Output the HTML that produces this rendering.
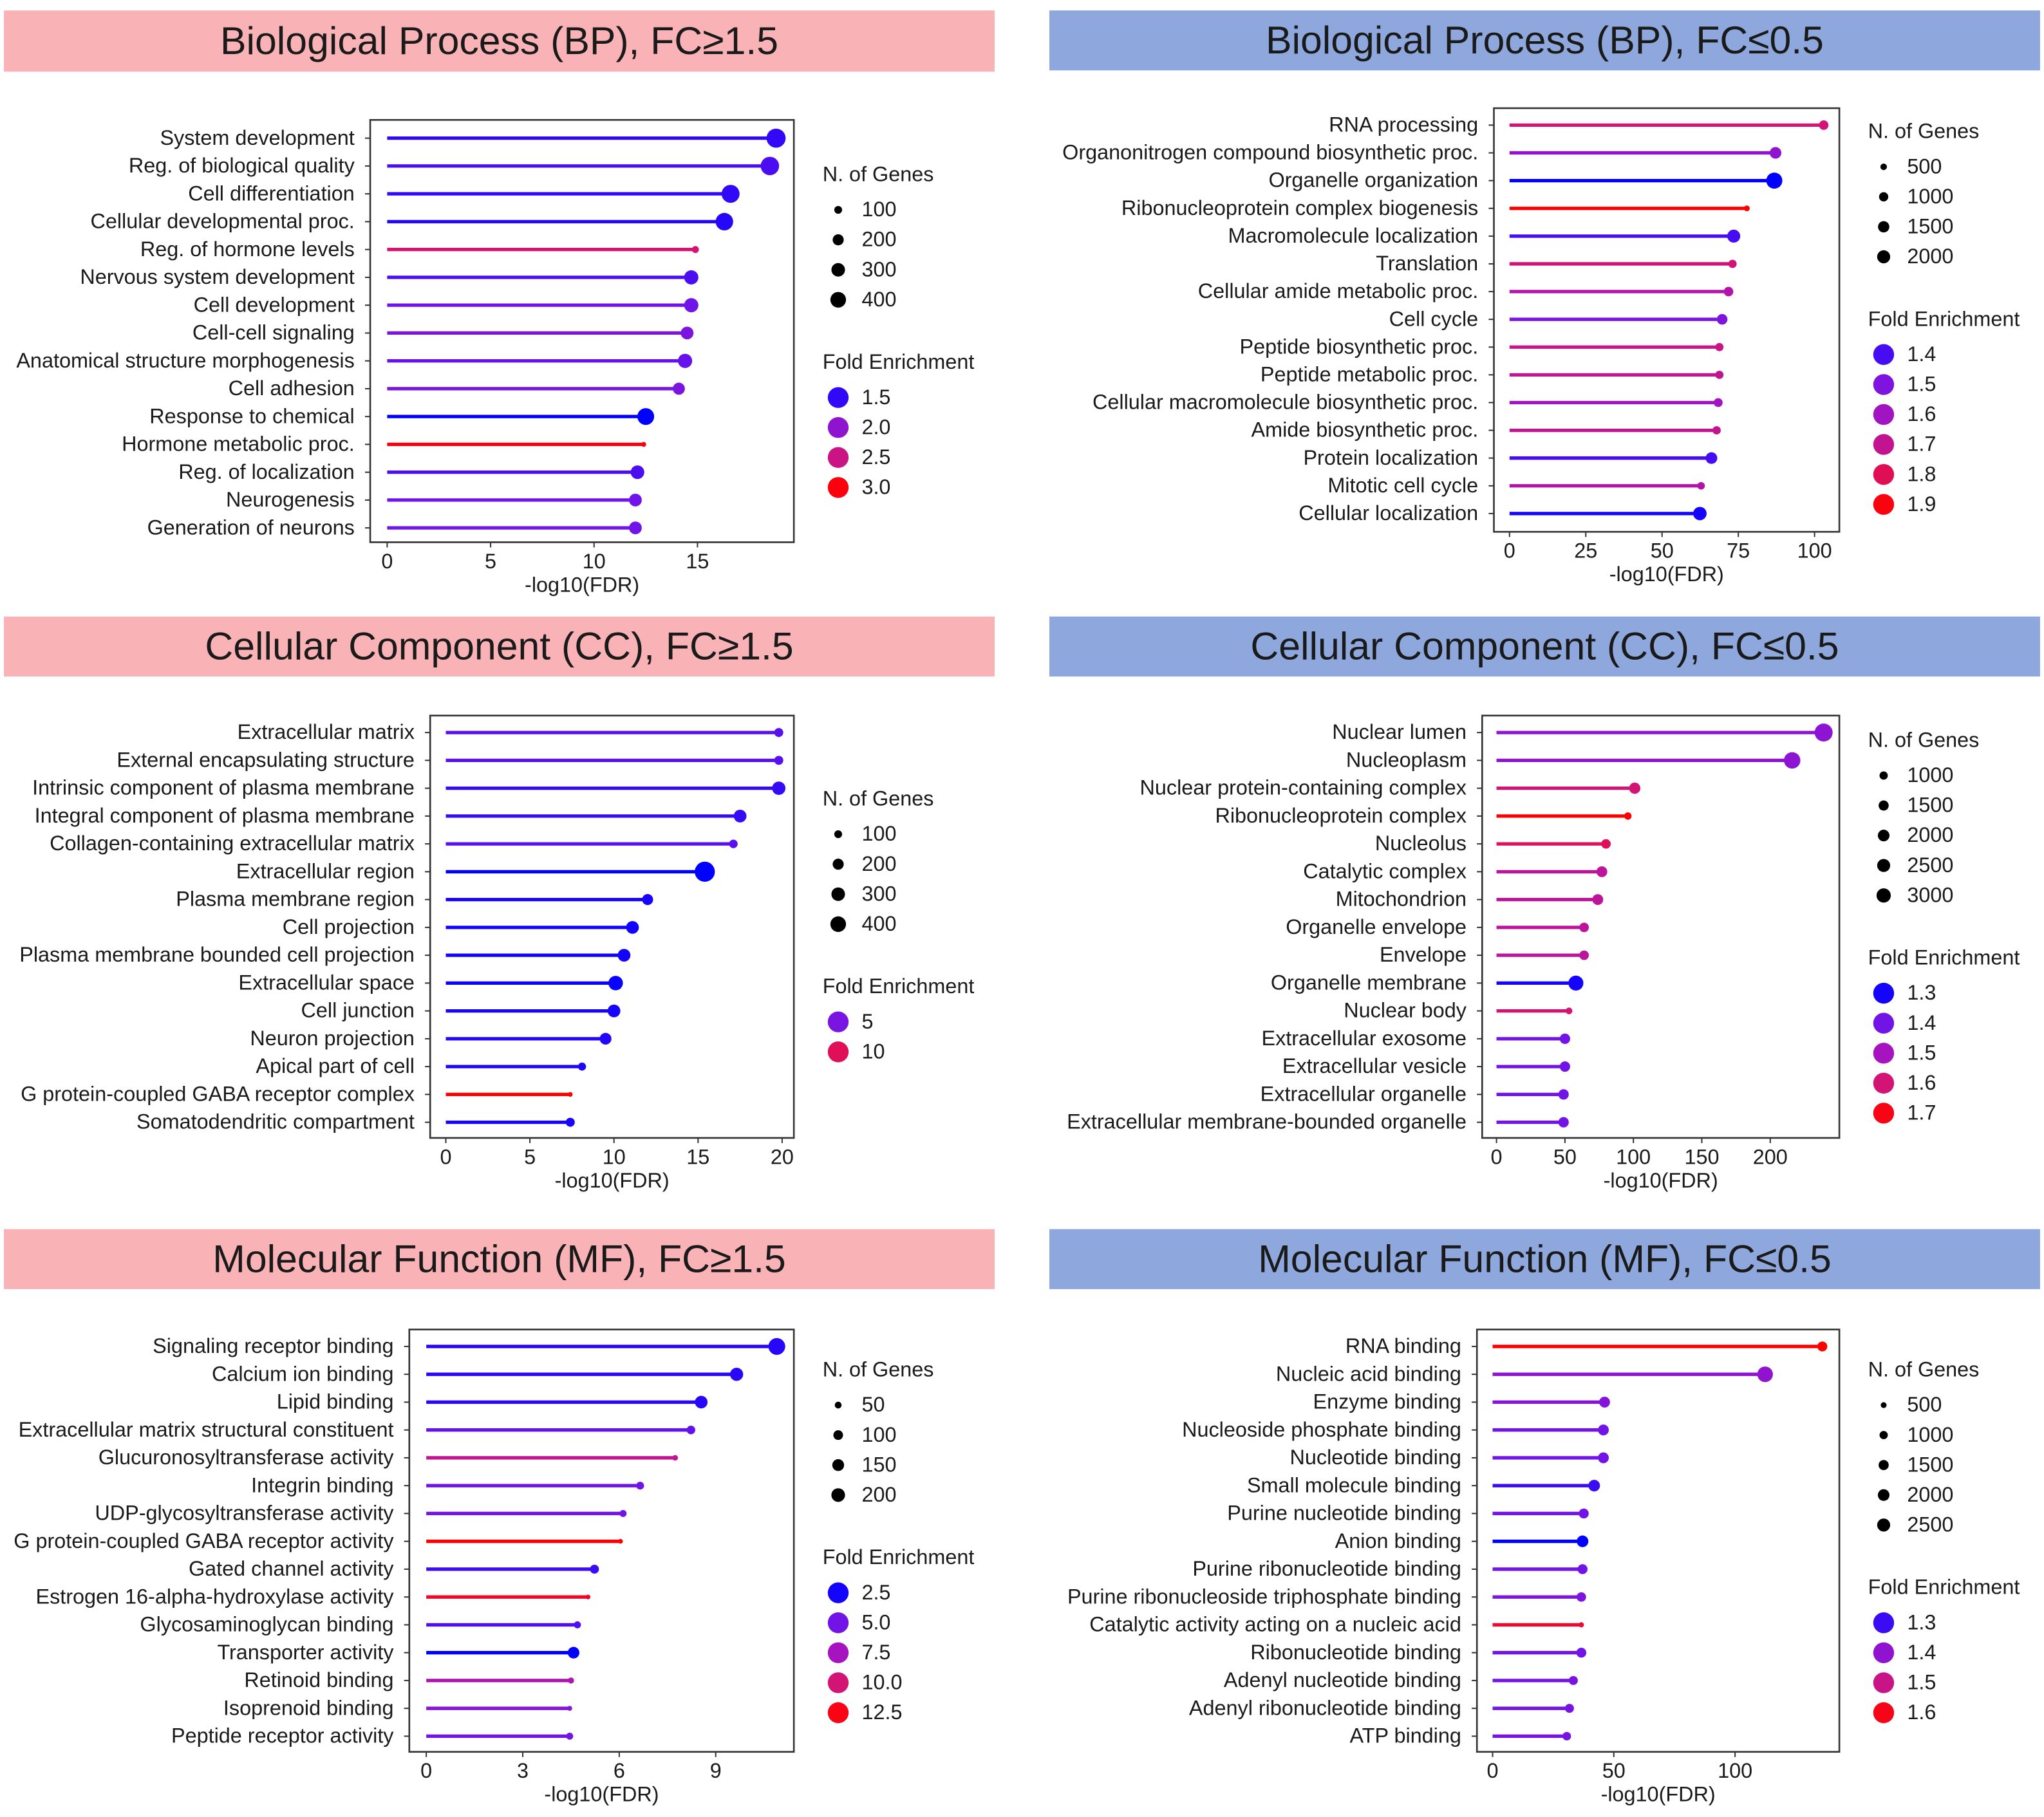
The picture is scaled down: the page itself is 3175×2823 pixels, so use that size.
<!DOCTYPE html>
<html><head><meta charset="utf-8"><style>
html,body{margin:0;padding:0;background:#fff}
svg{display:block}
text{font-family:"Liberation Sans",Arial,sans-serif;fill:#1a1a1a}
</style></head>
<body>
<svg id="fig" width="3175" height="2823" viewBox="0 0 1568 1394" preserveAspectRatio="none" xmlns="http://www.w3.org/2000/svg"></svg>
<script>
// ---- Panel 1: BP up ----
const bpUpTerms=["System development","Reg. of biological quality","Cell differentiation","Cellular developmental proc.","Reg. of hormone levels","Nervous system development","Cell development","Cell-cell signaling","Anatomical structure morphogenesis","Cell adhesion","Response to chemical","Hormone metabolic proc.","Reg. of localization","Neurogenesis","Generation of neurons"];
const bpUpFDR=[18.8,18.5,16.6,16.3,14.9,14.7,14.7,14.5,14.4,14.1,12.5,12.4,12.1,12.0,12.0];
const bpUpFE=[1.5,1.6,1.5,1.45,2.6,1.6,1.75,1.85,1.7,1.85,1.3,3.0,1.6,1.75,1.75];
const bpUpGenes=[450,420,400,380,60,250,250,200,250,180,350,30,230,200,200];
const bpUpXTicks=[0,5,10,15];
const bpUpSizeLegend=[100,200,300,400];
const bpUpFELegend=["1.5","2.0","2.5","3.0"];
// ---- Panel 2: BP down ----
const bpDnTerms=["RNA processing","Organonitrogen compound biosynthetic proc.","Organelle organization","Ribonucleoprotein complex biogenesis","Macromolecule localization","Translation","Cellular amide metabolic proc.","Cell cycle","Peptide biosynthetic proc.","Peptide metabolic proc.","Cellular macromolecule biosynthetic proc.","Amide biosynthetic proc.","Protein localization","Mitotic cell cycle","Cellular localization"];
const bpDnFDR=[103,87.2,86.8,77.8,73.5,73.1,71.8,69.7,68.8,68.8,68.4,67.9,66.2,62.8,62.4];
const bpDnFE=[1.75,1.55,1.3,1.92,1.4,1.75,1.65,1.5,1.72,1.7,1.6,1.7,1.4,1.65,1.33];
const bpDnGenes=[800,1200,2300,300,1500,600,800,1000,600,600,700,600,1200,500,1600];
const bpDnXTicks=[0,25,50,75,100];
const bpDnSizeLegend=[500,1000,1500,2000];
const bpDnFELegend=["1.4","1.5","1.6","1.7","1.8","1.9"];
// ---- Panel 3: CC up ----
const ccUpTerms=["Extracellular matrix","External encapsulating structure","Intrinsic component of plasma membrane","Integral component of plasma membrane","Collagen-containing extracellular matrix","Extracellular region","Plasma membrane region","Cell projection","Plasma membrane bounded cell projection","Extracellular space","Cell junction","Neuron projection","Apical part of cell","G protein-coupled GABA receptor complex","Somatodendritic compartment"];
const ccUpFDR=[19.8,19.8,19.8,17.5,17.1,15.4,12.0,11.1,10.6,10.1,10.0,9.5,8.1,7.4,7.4];
const ccUpFE=[4,4,3.2,3.2,4,2,2.5,2.4,2.4,2.2,2.5,2.8,2.7,12,2.5];
const ccUpGenes=[100,100,220,200,90,500,150,200,200,260,200,170,80,8,100];
const ccUpXTicks=[0,5,10,15,20];
const ccUpSizeLegend=[100,200,300,400];
const ccUpFELegend=["5","10"];
// ---- Panel 4: CC down ----
const ccDnTerms=["Nuclear lumen","Nucleoplasm","Nuclear protein-containing complex","Ribonucleoprotein complex","Nucleolus","Catalytic complex","Mitochondrion","Organelle envelope","Envelope","Organelle membrane","Nuclear body","Extracellular exosome","Extracellular vesicle","Extracellular organelle","Extracellular membrane-bounded organelle"];
const ccDnFDR=[239,216,101,96,80,77,74,64,64,58,53,50,50,49,49];
const ccDnFE=[1.45,1.45,1.6,1.72,1.63,1.55,1.55,1.55,1.55,1.3,1.6,1.4,1.4,1.4,1.4];
const ccDnGenes=[3600,3000,1400,600,1000,1300,1300,1000,1000,2500,500,1200,1200,1200,1200];
const ccDnXTicks=[0,50,100,150,200];
const ccDnSizeLegend=[1000,1500,2000,2500,3000];
const ccDnFELegend=["1.3","1.4","1.5","1.6","1.7"];
// ---- Panel 5: MF up ----
const mfUpTerms=["Signaling receptor binding","Calcium ion binding","Lipid binding","Extracellular matrix structural constituent","Glucuronosyltransferase activity","Integrin binding","UDP-glycosyltransferase activity","G protein-coupled GABA receptor activity","Gated channel activity","Estrogen 16-alpha-hydroxylase activity","Glycosaminoglycan binding","Transporter activity","Retinoid binding","Isoprenoid binding","Peptide receptor activity"];
const mfUpFDR=[10.9,9.65,8.55,8.23,7.74,6.65,6.12,6.04,5.23,5.03,4.70,4.58,4.50,4.46,4.46];
const mfUpFE=[3,3,3,4.5,9,5,5,13,3.5,12,4,2,8,6,5];
const mfUpGenes=[230,140,130,60,25,50,40,8,65,8,40,110,30,20,40];
const mfUpXTicks=[0,3,6,9];
const mfUpSizeLegend=[50,100,150,200];
const mfUpFELegend=["2.5","5.0","7.5","10.0","12.5"];
// ---- Panel 6: MF down ----
const mfDnTerms=["RNA binding","Nucleic acid binding","Enzyme binding","Nucleoside phosphate binding","Nucleotide binding","Small molecule binding","Purine nucleotide binding","Anion binding","Purine ribonucleotide binding","Purine ribonucleoside triphosphate binding","Catalytic activity acting on a nucleic acid","Ribonucleotide binding","Adenyl nucleotide binding","Adenyl ribonucleotide binding","ATP binding"];
const mfDnFDR=[136,112.4,46.2,45.7,45.7,41.9,37.6,37.1,37.1,36.6,36.6,36.6,33.3,31.7,30.6];
const mfDnFE=[1.62,1.4,1.38,1.35,1.35,1.3,1.35,1.25,1.35,1.37,1.58,1.35,1.36,1.36,1.36];
const mfDnGenes=[1100,2700,1300,1300,1300,1500,1100,1500,1100,1000,300,1100,900,900,800];
const mfDnXTicks=[0,50,100];
const mfDnSizeLegend=[500,1000,1500,2000,2500];
const mfDnFELegend=["1.3","1.4","1.5","1.6"];

const NS="http://www.w3.org/2000/svg";
const svg=document.getElementById('fig');
function mk(tag,attrs,parent){const e=document.createElementNS(NS,tag);for(const k in attrs)e.setAttribute(k,attrs[k]);(parent||svg).appendChild(e);return e;}
const stops=[[0,0,255],[110,20,235],[165,20,190],[215,20,110],[255,0,0]];
function col(t){t=Math.max(0,Math.min(1,t));const p=t*4,i=Math.min(3,Math.floor(p)),f=p-i;const a=stops[i],b=stops[i+1];return `rgb(${Math.round(a[0]+(b[0]-a[0])*f)},${Math.round(a[1]+(b[1]-a[1])*f)},${Math.round(a[2]+(b[2]-a[2])*f)})`;}

function header(x,y,w,h,fill,title,name){
  const g=mk('g',{});
  
  
  mk('rect',{x:x,y:y,width:w,height:h,fill:fill},g);
  const t=mk('text',{x:x+w/2,y:y+h/2+10,'text-anchor':'middle','font-size':30},g);
  t.textContent=title;
}

function panel(p){
  const g=mk('g',{});
  
  
  const xs=v=>p.x0+(v-p.xmin)*p.xscale;
  const n=p.terms.length;
  const ys=i=>p.row0+i*(p.row1-p.row0)/(n-1);
  const box=mk('rect',{x:p.bx,y:p.by,width:p.bw,height:p.bh,fill:'none',stroke:'#333','stroke-width':1.3},g);
  
  
  for(let i=0;i<n;i++){
    const y=ys(i);
    const lab=mk('text',{x:p.bx-12,y:y+5,'text-anchor':'end','font-size':16},g);
    lab.textContent=p.terms[i];
    
    
    mk('line',{x1:p.bx-4,x2:p.bx,y1:y,y2:y,stroke:'#333','stroke-width':1},g);
    const t=(p.fe[i]-p.feMin)/(p.feMax-p.feMin);
    const c=col(t);
    const ln=mk('line',{x1:xs(0),x2:xs(p.fdr[i]),y1:y,y2:y,stroke:c,'stroke-width':2.6},g);
    
    
    const dot=mk('circle',{cx:xs(p.fdr[i]),cy:y,r:Math.max(1.8,Math.sqrt(p.genes[i])*p.k*1.15),fill:c},g);
    
    
  }
  const axY=p.by+p.bh;
  p.xticks.forEach(v=>{
    mk('line',{x1:xs(v),x2:xs(v),y1:axY,y2:axY+4,stroke:'#333','stroke-width':1},g);
    const tl=mk('text',{x:xs(v),y:axY+20,'text-anchor':'middle','font-size':16},g);
    tl.textContent=v;
    
    
  });
  const xt=mk('text',{x:p.bx+p.bw/2,y:axY+38,'text-anchor':'middle','font-size':16},g);
  xt.textContent='-log10(FDR)';
  
  
  const lx=p.lx;
  const st=mk('text',{x:lx,y:p.sy+5,'font-size':16},g);
  st.textContent='N. of Genes';
  
  
  p.sizeLeg.forEach((v,i)=>{
    const y=p.sy+27+i*23;
    const c=mk('circle',{cx:lx+12,cy:y,r:Math.sqrt(v)*p.k,fill:'#000'},g);
    
    
    const t=mk('text',{x:lx+30,y:y+5,'font-size':16},g);
    t.textContent=v;
  });
  const fy=p.sy+27+p.sizeLeg.length*23+25;
  const ft=mk('text',{x:lx,y:fy+5,'font-size':16},g);
  ft.textContent='Fold Enrichment';
  
  
  p.feLeg.forEach((v,i)=>{
    const y=fy+27+i*23;
    const t0=(parseFloat(v)-p.feMin)/(p.feMax-p.feMin);
    const c=mk('circle',{cx:lx+12,cy:y,r:8,fill:col(t0)},g);
    
    
    const t=mk('text',{x:lx+30,y:y+5,'font-size':16},g);
    t.textContent=v;
  });
}

const PINK='#f9b3b7',BLUE='#8ea8dd';
header(3,8,760,47,PINK,'Biological Process (BP), FC≥1.5','header-bp-up');
header(805,8,760,46,BLUE,'Biological Process (BP), FC≤0.5','header-bp-down');
header(3,473,760,46,PINK,'Cellular Component (CC), FC≥1.5','header-cc-up');
header(805,473,760,46,BLUE,'Cellular Component (CC), FC≤0.5','header-cc-down');
header(3,943,760,46,PINK,'Molecular Function (MF), FC≥1.5','header-mf-up');
header(805,943,760,46,BLUE,'Molecular Function (MF), FC≤0.5','header-mf-down');

panel({name:'bp-up-chart',terms:bpUpTerms,fdr:bpUpFDR,fe:bpUpFE,genes:bpUpGenes,xticks:bpUpXTicks,sizeLeg:bpUpSizeLegend,feLeg:bpUpFELegend,
 bx:284,by:92,bw:325,bh:324,x0:297,xmin:0,xscale:15.87,row0:106,row1:405,feMin:1.3,feMax:3.05,k:0.3,lx:631,sy:134});
panel({name:'bp-down-chart',terms:bpDnTerms,fdr:bpDnFDR,fe:bpDnFE,genes:bpDnGenes,xticks:bpDnXTicks,sizeLeg:bpDnSizeLegend,feLeg:bpDnFELegend,
 bx:1146,by:83,bw:265,bh:325,x0:1158,xmin:0,xscale:2.34,row0:96,row1:394,feMin:1.3,feMax:1.92,k:0.112,lx:1433,sy:101});
panel({name:'cc-up-chart',terms:ccUpTerms,fdr:ccUpFDR,fe:ccUpFE,genes:ccUpGenes,xticks:ccUpXTicks,sizeLeg:ccUpSizeLegend,feLeg:ccUpFELegend,
 bx:330,by:549,bw:279,bh:324,x0:342,xmin:0,xscale:12.9,row0:562,row1:861,feMin:2,feMax:12,k:0.3,lx:631,sy:613});
panel({name:'cc-down-chart',terms:ccDnTerms,fdr:ccDnFDR,fe:ccDnFE,genes:ccDnGenes,xticks:ccDnXTicks,sizeLeg:ccDnSizeLegend,feLeg:ccDnFELegend,
 bx:1137,by:549,bw:274,bh:324,x0:1148,xmin:0,xscale:1.05,row0:562,row1:861,feMin:1.28,feMax:1.72,k:0.1,lx:1433,sy:568});
panel({name:'mf-up-chart',terms:mfUpTerms,fdr:mfUpFDR,fe:mfUpFE,genes:mfUpGenes,xticks:mfUpXTicks,sizeLeg:mfUpSizeLegend,feLeg:mfUpFELegend,
 bx:314,by:1020,bw:295,bh:324,x0:327,xmin:0,xscale:24.67,row0:1033,row1:1332,feMin:2,feMax:13,k:0.37,lx:631,sy:1051});
panel({name:'mf-down-chart',terms:mfDnTerms,fdr:mfDnFDR,fe:mfDnFE,genes:mfDnGenes,xticks:mfDnXTicks,sizeLeg:mfDnSizeLegend,feLeg:mfDnFELegend,
 bx:1133,by:1020,bw:278,bh:324,x0:1145,xmin:0,xscale:1.86,row0:1033,row1:1332,feMin:1.25,feMax:1.62,k:0.1,lx:1433,sy:1051});
</script>
</body></html>
